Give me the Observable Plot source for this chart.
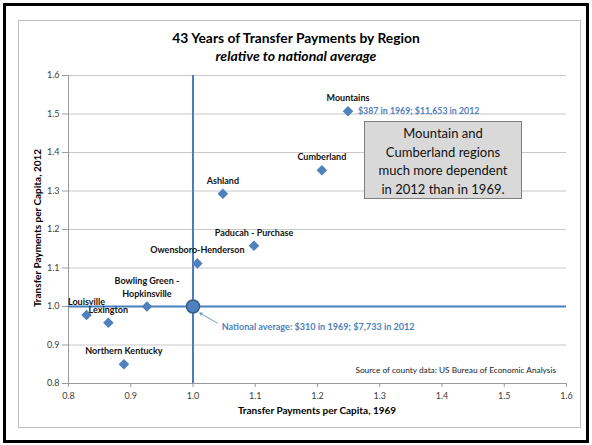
<!DOCTYPE html>
<html><head><meta charset="utf-8">
<script src="https://cdn.jsdelivr.net/npm/d3@7"></script>
<script src="https://cdn.jsdelivr.net/npm/@observablehq/plot@0.6"></script>
<style>
body{margin:0;background:#fff;}
#wrap{position:relative;width:592px;height:445px;font-family:Lato,"Open Sans",sans-serif;overflow:hidden;}
.abs{position:absolute;}
#outer{left:3px;top:3px;width:580px;height:434px;border:3px solid #000;}
#inner{left:18px;top:20px;width:561px;height:406px;border:1px solid #bfbfbf;}
#title{left:0;width:592px;top:29px;text-align:center;font-weight:bold;font-size:13.8px;line-height:17px;color:#000;}
#subtitle{left:0;width:592px;top:47px;text-align:center;font-weight:bold;font-style:italic;font-size:14px;line-height:17px;color:#000;}
#xlab{left:68px;width:498px;top:404px;text-align:center;font-weight:bold;font-size:10px;}
#ylab{left:37px;top:228px;transform:translate(-50%,-50%) rotate(-90deg);white-space:nowrap;font-weight:bold;font-size:10px;}
#src{right:36px;top:365px;font-size:8.3px;color:#222;white-space:nowrap;}
#box{left:364px;top:121px;width:158px;height:78px;background:#d9d9d9;border:1px solid #7f7f7f;text-align:center;font-size:13px;line-height:18.5px;padding-top:2px;box-sizing:border-box;color:#111;}
svg{position:absolute;left:0;top:0;}
</style></head>
<body><div id="wrap">
<div class="abs" id="outer"></div>
<div class="abs" id="inner"></div>
<div id="plot"></div>
<div class="abs" id="title">43 Years of Transfer Payments by Region</div>
<div class="abs" id="subtitle">relative to national average</div>
<div class="abs" id="xlab">Transfer Payments per Capita, 1969</div>
<div class="abs" id="ylab">Transfer Payments per Capita, 2012</div>
<div class="abs" id="src">Source of county data: US Bureau of Economic Analysis</div>
<div class="abs" id="box">Mountain and<br>Cumberland regions<br>much more dependent<br>in 2012 than in 1969.</div>
</div>
<script>
const regions = ["Mountains","Cumberland","Ashland","Paducah - Purchase","Owensboro-Henderson","Bowling Green -\nHopkinsville","Louisville","Lexington","Northern Kentucky"];
const x1969 = [1.249, 1.207, 1.048, 1.098, 1.007, 0.926, 0.829, 0.864, 0.889];
const y2012 = [1.507, 1.354, 1.293, 1.158, 1.112, 1.000, 0.978, 0.958, 0.850];
const xTicks = [0.8,0.9,1.0,1.1,1.2,1.3,1.4,1.5,1.6];
const yTicks = [0.8,0.9,1.0,1.1,1.2,1.3,1.4,1.5,1.6];
const national = {x:1.0, y:1.0, label:"National average: $310 in 1969; $7,733 in 2012"};
const nationalLabelPos = {x:1.046, y:0.9455};
const arrowSeg = {x1:1.039, y1:0.957, x2:1.011, y2:0.983};
const mountainsNote = "$387 in 1969; $11,653 in 2012";

const data = regions.map((r,i)=>({region:r, x:x1969[i], y:y2012[i]}));
const blue = "#4f81bd";
const fmt = d3.format(".1f");

const chart = Plot.plot({
  width:592, height:445,
  marginLeft:68, marginRight:26, marginTop:75, marginBottom:62,
  style:{fontFamily:"Lato, 'Open Sans', sans-serif", background:"transparent"},
  x:{domain:[0.8,1.6]},
  y:{domain:[0.8,1.6]},
  marks:[
    Plot.ruleY(yTicks.filter(d=>d>0.8), {stroke:"#c8c8c8", strokeWidth:1, strokeOpacity:1}),
    Plot.axisY({ticks:yTicks, tickFormat:fmt, tickSize:6, tickPadding:3, fontSize:9, color:"#404040", stroke:"#9a9a9a", label:null}),
    Plot.axisX({ticks:xTicks, tickFormat:fmt, tickSize:4, tickPadding:5, fontSize:9, color:"#404040", stroke:"#9a9a9a", label:null}),
    Plot.ruleX([0.8], {stroke:"#9a9a9a"}),
    Plot.ruleY([0.8], {stroke:"#9a9a9a"}),
    Plot.ruleX([national.x], {stroke:"#4a7ebb", strokeWidth:2}),
    Plot.ruleY([national.y], {stroke:"#4a7ebb", strokeWidth:2}),
    Plot.arrow([arrowSeg], {x1:"x1", y1:"y1", x2:"x2", y2:"y2", stroke:"#4a7ebb", strokeWidth:0.8, headLength:5}),
    Plot.dot([national], {x:"x", y:"y", r:6.5, fill:blue, stroke:"#385d8a", strokeWidth:1.5}),
    Plot.dot(data, {x:"x", y:"y", symbol:"diamond2", r:3.8, fill:blue, stroke:blue}),
    Plot.text(data, {x:"x", y:"y", text:"region", dy:-10, fontSize:9, fontWeight:"bold", fill:"#111", lineHeight:1.35, lineAnchor:"bottom", textAnchor:"middle"}),
    Plot.text([data[0]], {x:"x", y:"y", text:()=>mountainsNote, dx:10, textAnchor:"start", fontSize:8.8, fontWeight:"bold", fill:"#4f81bd"}),
    Plot.text([nationalLabelPos], {x:"x", y:"y", text:()=>national.label, textAnchor:"start", fontSize:9.1, fontWeight:"bold", fill:"#4f81bd"})
  ]
});
document.getElementById("plot").appendChild(chart);
</script>
</body></html>
